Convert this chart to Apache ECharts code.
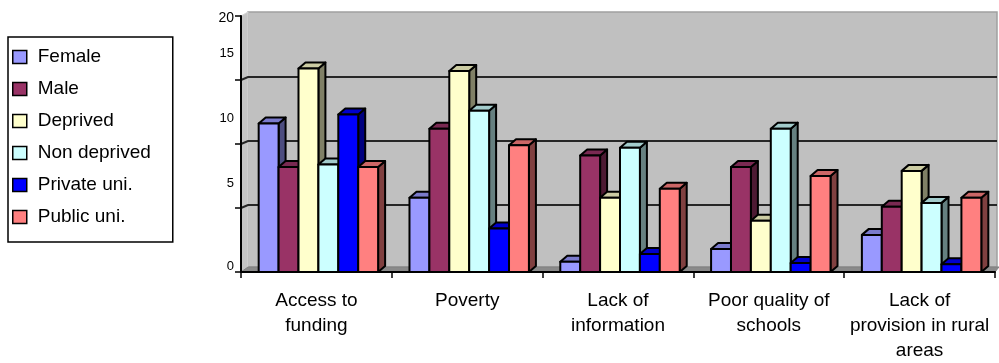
<!DOCTYPE html>
<html>
<head>
<meta charset="utf-8">
<script src="https://cdn.jsdelivr.net/npm/echarts@6/dist/echarts.min.js"></script>
<style>
  html, body { margin: 0; padding: 0; background: #ffffff; }
  #chart { width: 999px; height: 363px; }
</style>
</head>
<body>
<div id="chart"></div>
<script>
// Categories (reasons) along the horizontal axis
const categories = [
  'Access to\nfunding',
  'Poverty',
  'Lack of\ninformation',
  'Poor quality of\nschools',
  'Lack of\nprovision in rural\nareas'
];

// Series names
const seriesNames = ['Female', 'Male', 'Deprived', 'Non deprived', 'Private uni.', 'Public uni.'];

// Values per series, one per category
const female      = [11.6, 5.8, 0.8, 1.8, 2.9];
const male        = [8.2, 11.2, 9.1, 8.2, 5.1];
const deprived    = [15.9, 15.7, 5.8, 4.0, 7.9];
const nonDeprived = [8.4, 12.6, 9.7, 11.2, 5.4];
const privateUni  = [12.3, 3.4, 1.4, 0.7, 0.6];
const publicUni   = [8.2, 9.9, 6.5, 7.5, 5.8];

// Value axis ticks and their labels
const yTicks = [0, 5, 10, 15, 20];
const yTickLabels = ['0', '5', '10', '15', '20'];

const seriesValues = [female, male, deprived, nonDeprived, privateUni, publicUni];
const seriesColors = ['#9999ff', '#993366', '#ffffcc', '#ccffff', '#0000ff', '#ff8080'];

// Oblique depth used for the pseudo-3D columns and walls
const DEPTH_X = 7;
const DEPTH_Y = 6;
const WALL_Y = 4;

function shade(hex, k) {
  const n = parseInt(hex.slice(1), 16);
  const r = Math.round(((n >> 16) & 255) * k);
  const g = Math.round(((n >> 8) & 255) * k);
  const b = Math.round((n & 255) * k);
  return 'rgb(' + r + ',' + g + ',' + b + ')';
}

// vertical offset of each value-axis label relative to its tick (px, negative = up)
const labelShift = { '0': -6, '5': -25, '10': -26, '15': -27, '20': 2 };
const rich = {
  t: { fontSize: 13, lineHeight: 15, color: '#000', fontFamily: 'Liberation Sans' },
  big: { fontSize: 14, lineHeight: 16, color: '#000', fontFamily: 'Liberation Sans' }
};
Object.keys(labelShift).forEach(function (k) {
  const n = Math.abs(labelShift[k]) * 2;
  rich['g' + n] = { fontSize: 1, lineHeight: n, height: n };
});

const chart = echarts.init(document.getElementById('chart'), null, { renderer: 'canvas' });

// Back wall, side wall, floor and wall gridlines
const wallSeries = {
  type: 'custom',
  name: 'walls',
  silent: true,
  z: 0,
  data: [[0, 0]],
  renderItem: function (params, api) {
    const cs = params.coordSys;
    const base = api.coord([0, 0])[1];
    const left = cs.x, right = cs.x + cs.width;
    const topY = cs.y;
    const children = [];
    // back wall
    children.push({
      type: 'polygon',
      shape: { points: [[left + DEPTH_X, topY - WALL_Y], [right + 2, topY - WALL_Y], [right + 2, base - 5], [left + DEPTH_X, base - 5]] },
      style: { fill: '#c0c0c0', stroke: '#a0a0a0', lineWidth: 1.5 }
    });
    // left side wall
    children.push({
      type: 'polygon',
      shape: { points: [[left, topY], [left + DEPTH_X, topY - WALL_Y], [left + DEPTH_X, base - 5], [left, base]] },
      style: { fill: '#c4c4c4', stroke: '#d4d4d4', lineWidth: 1 }
    });
    // floor
    children.push({
      type: 'polygon',
      shape: { points: [[left, base], [left + DEPTH_X, base - 5], [right + 4, base - 5], [right, base]] },
      style: { fill: '#8a8a8a', stroke: '#808080', lineWidth: 1 }
    });
    // gridlines on the walls
    yTicks.forEach(function (t) {
      if (t === 0 || t === 20) return;
      const y = api.coord([0, t])[1];
      children.push({
        type: 'polyline',
        shape: { points: [[left, y], [left + DEPTH_X, y - 3], [right + 2, y - 3]] },
        style: { stroke: '#262626', lineWidth: 2, fill: null }
      });
    });
    return { type: 'group', children: children };
  }
};

function barSeries(idx) {
  const color = seriesColors[idx];
  return {
    type: 'custom',
    name: seriesNames[idx],
    z: 2 + idx,
    itemStyle: { color: color },
    encode: { x: 0, y: 1 },
    data: seriesValues[idx].map(function (v, i) { return [i, v]; }),
    renderItem: function (params, api) {
      const ci = api.value(0);
      const v = api.value(1);
      const base = api.coord([ci, 0]);
      const top = api.coord([ci, v]);
      const band = api.size([1, 0])[0];
      const bw = band * 0.132;
      const x0 = base[0] - bw * 3 + idx * bw + 2;
      const x1 = x0 + bw;
      const yT = top[1], yB = base[1];
      const edge = { stroke: '#000', lineWidth: 2, lineJoin: 'round' };
      return {
        type: 'group',
        children: [
          {
            type: 'polygon',
            shape: { points: [[x1, yT], [x1 + DEPTH_X, yT - DEPTH_Y], [x1 + DEPTH_X, yB - DEPTH_Y], [x1, yB]] },
            style: Object.assign({ fill: shade(color, 0.5) }, edge)
          },
          {
            type: 'polygon',
            shape: { points: [[x0, yT], [x0 + DEPTH_X, yT - DEPTH_Y], [x1 + DEPTH_X, yT - DEPTH_Y], [x1, yT]] },
            style: Object.assign({ fill: shade(color, 0.8) }, edge)
          },
          {
            type: 'rect',
            shape: { x: x0, y: yT, width: bw, height: yB - yT },
            style: Object.assign({ fill: color }, edge)
          }
        ]
      };
    }
  };
}

const option = {
  animation: false,
  backgroundColor: '#ffffff',
  textStyle: { fontFamily: 'Liberation Sans' },
  legend: {
    data: seriesNames,
    orient: 'vertical',
    left: 8,
    top: 37,
    padding: [10, 22, 15, 4],
    itemGap: 12,
    itemWidth: 14,
    itemHeight: 13,
    itemStyle: { borderColor: '#000', borderWidth: 1.5 },
    icon: 'rect',
    borderColor: '#000',
    borderWidth: 1.5,
    backgroundColor: '#fff',
    selectedMode: false,
    textStyle: { fontSize: 19, lineHeight: 20, color: '#000', fontFamily: 'Liberation Sans', padding: [0, 0, 0, 6] }
  },
  grid: { left: 241, right: 4, top: 16, bottom: 90, containLabel: false },
  xAxis: {
    type: 'category',
    data: categories,
    boundaryGap: true,
    axisLine: { show: true, lineStyle: { color: '#000', width: 2 } },
    axisTick: { show: true, length: 6, lineStyle: { color: '#000', width: 1.5 } },
    axisLabel: { fontSize: 19, lineHeight: 25, margin: 16, color: '#000', interval: 0, fontFamily: 'Liberation Sans' },
    splitLine: { show: false }
  },
  yAxis: {
    type: 'value',
    min: 0,
    max: 20,
    interval: 5,
    axisLine: { show: true, lineStyle: { color: '#000', width: 2 } },
    axisTick: { show: true, inside: false, length: 6, lineStyle: { color: '#000', width: 1.5 } },
    splitLine: { show: false },
    axisLabel: {
      margin: 7,
      rich: rich,
      formatter: function (v) {
        const i = yTicks.indexOf(v);
        const label = i >= 0 ? yTickLabels[i] : String(v);
        const s = labelShift[label] || 0;
        const n = Math.abs(s) * 2;
        const key = v === 20 ? 'big' : 't';
        if (s < 0) return '{' + key + '|' + label + '}\n{g' + n + '| }';
        if (s > 0) return '{g' + n + '| }\n{' + key + '|' + label + '}';
        return '{' + key + '|' + label + '}';
      }
    }
  },
  series: [wallSeries].concat(seriesNames.map(function (_, i) { return barSeries(i); }))
};

chart.setOption(option);
</script>
</body>
</html>
